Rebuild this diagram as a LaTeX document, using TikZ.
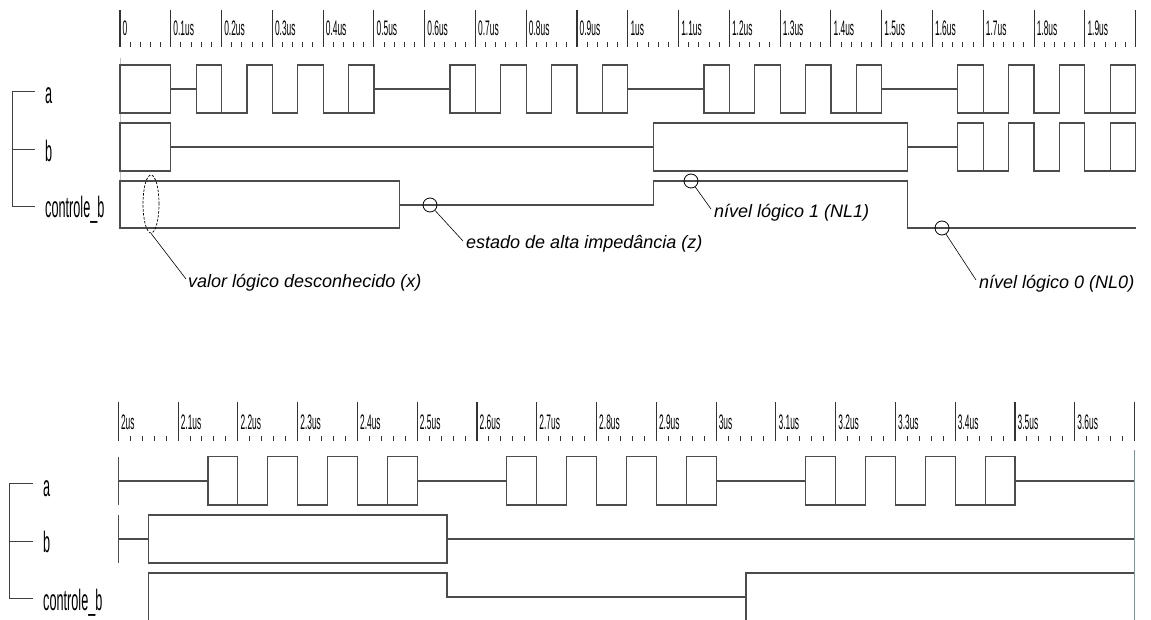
\documentclass[tikz,border=0pt]{standalone}
\usepackage{fontspec}
\setmainfont{Liberation Sans}
\usepackage{graphicx}
\usetikzlibrary{shapes.geometric}
\definecolor{cursorc}{RGB}{120,150,155}
\newcommand{\ticklab}[1]{\scalebox{0.4}[1]{\fontsize{21}{21}\selectfont #1}}
\newcommand{\siglab}[1]{\scalebox{0.43}[1]{\fontsize{29.5}{29.5}\selectfont #1}}
\newcommand{\wburst}[3]{%
  \draw[wave] (#1,#2) -- ({#1+1},#2) ({#1+2},#2) -- ({#1+3},#2) ({#1+4},#2) -- ({#1+5},#2) ({#1+6},#2) -- ({#1+7},#2)
    (#1,#3) -- ({#1+2},#3) ({#1+3},#3) -- ({#1+4},#3) ({#1+5},#3) -- ({#1+7},#3);
  \foreach \i in {0,...,7}{\draw[wave] ({#1+\i},#2) -- ({#1+\i},#3);}%
}
\begin{document}
\begin{tikzpicture}[x=1pt,y=-1pt,
  wave/.style={line width=1.2pt, draw=black!70, line cap=rect},
  major/.style={line width=1.1pt, draw=black!80},
  minor/.style={line width=1pt, draw=black!80},
  brk/.style={line width=1pt, draw=black!75},
  lead/.style={line width=0.6pt, draw=black},
  ann/.style={anchor=base west, inner sep=0pt, font=\fontsize{18}{20}\selectfont\itshape},
  sig/.style={anchor=base west, inner sep=0pt},
  ticklbl/.style={anchor=west, inner sep=0pt},
  ringmark/.style={circle, draw=black, line width=0.8pt, minimum size=14pt, inner sep=0pt}]
\useasboundingbox (0,0) rectangle (1151,620);
\fill[white] (0,0) rectangle (1151,620);

% ---------- top ruler ----------
\foreach \i in {0,...,20}{\draw[major] ({120+50.78*\i},10) -- ({120+50.78*\i},47);}
\foreach \i in {0,...,19}{\foreach \j in {1,...,4}{\draw[minor] ({120+50.78*\i+10.156*\j},42.5) -- ({120+50.78*\i+10.156*\j},47);}}
\foreach \i/\t in {0/0,1/0.1us,2/0.2us,3/0.3us,4/0.4us,5/0.5us,6/0.6us,7/0.7us,8/0.8us,9/0.9us,10/1us,11/1.1us,12/1.2us,13/1.3us,14/1.4us,15/1.5us,16/1.6us,17/1.7us,18/1.8us,19/1.9us}{
  \node[ticklbl] (tt\i) at ({122.5+50.78*\i},28.5) {\ticklab{\t}};}

% ---------- top signals ----------
\begin{scope}[xshift=120pt, x=25.39pt]
\draw[line width=1pt, draw=black!25] (0,58) -- (0,228);
% a
\draw[wave] (0,65) rectangle (2,113);
\draw[wave] (2,89) -- (3,89) (10,89) -- (13,89) (20,89) -- (23,89) (30,89) -- (33,89);
\wburst{3}{65}{113}
\wburst{13}{65}{113}
\wburst{23}{65}{113}
\wburst{33}{65}{113}
% b
\draw[wave] (0,123) rectangle (2,171);
\draw[wave] (2,147) -- (21,147);
\draw[wave] (21,123) rectangle (31,171);
\draw[wave] (31,147) -- (33,147);
\wburst{33}{123}{171}
% controle_b
\draw[wave] (0,181) rectangle (11,228);
\draw[wave] (11,205) -- (21,205) -- (21,181) -- (31,181) -- (31,228) -- (40,228);
\end{scope}

% ---------- top labels ----------
\draw[brk] (35,91.5) -- (12,91.5) -- (12,207) -- (35,207);
\draw[brk] (12,150) -- (35,150);
\node[sig] (sa1) at (45,103.5) {\siglab{a}};
\node[sig] (sb1) at (45,161.5) {\siglab{b}};
\node[sig] (sc1) at (45,218) {\siglab{controle\_b}};

% ---------- annotations ----------
\node[ellipse, draw=black, dash pattern=on 2.5pt off 1.5pt, line width=0.7pt, minimum width=16pt, minimum height=58pt, inner sep=0pt] (ex) at (151,204) {};
\node[ann] (lx) at (188,288) {valor lógico desconhecido (x)};
\coordinate (lxp) at (186,279);
\draw[lead] (ex.south) -- (lxp);

\node[ringmark] (cz) at (430,205) {};
\node[ann] (lz) at (466,249) {estado de alta impedância (z)};
\coordinate (lzp) at (463,241);
\draw[lead] (cz) -- (lzp);

\node[ringmark] (c1) at (691,181) {};
\node[ann] (l1) at (714,218) {nível lógico 1 (NL1)};
\coordinate (l1p) at (711,209);
\draw[lead] (c1) -- (l1p);

\node[ringmark] (c0) at (942,228) {};
\node[ann] (l0) at (979,289) {nível lógico 0 (NL0)};
\coordinate (l0p) at (976,280);
\draw[lead] (c0) -- (l0p);

% ---------- bottom ruler ----------
\foreach \i in {0,...,17}{\draw[major] ({118.3+59.78*\i},402) -- ({118.3+59.78*\i},441);}
\foreach \i in {0,...,16}{\foreach \j in {1,...,4}{\draw[minor] ({118.3+59.78*\i+11.956*\j},436) -- ({118.3+59.78*\i+11.956*\j},441);}}
\foreach \i/\t in {0/2us,1/2.1us,2/2.2us,3/2.3us,4/2.4us,5/2.5us,6/2.6us,7/2.7us,8/2.8us,9/2.9us,10/3us,11/3.1us,12/3.2us,13/3.3us,14/3.4us,15/3.5us,16/3.6us}{
  \node[ticklbl] (bt\i) at ({120.8+59.78*\i},422.5) {\ticklab{\t}};}

% ---------- bottom signals ----------
\begin{scope}[xshift=118.3pt, x=29.89pt]
% a
\draw[line width=1pt, draw=black!70] (0,456.7) -- (0,505);
\draw[wave] (0,481) -- (3,481) (10,481) -- (13,481) (20,481) -- (23,481) (30,481) -- (34,481);
\wburst{3}{456.7}{505}
\wburst{13}{456.7}{505}
\wburst{23}{456.7}{505}
% b
\draw[line width=1pt, draw=black!70] (0,515) -- (0,563);
\draw[wave] (0,539) -- (1,539);
\draw[wave] (1,515) rectangle (11,563);
\draw[wave] (11,539) -- (34,539);
% controle_b
\draw[wave] (1,620) -- (1,573) -- (11,573) -- (11,597) -- (21,597);
\draw[wave] (21,620) -- (21,573) -- (34,573);
\end{scope}
\draw[line width=1pt, draw=cursorc] (1134.3,450) -- (1134.3,620);

% ---------- bottom labels ----------
\draw[brk] (33,483) -- (9.5,483) -- (9.5,598) -- (33,598);
\draw[brk] (9.5,541) -- (33,541);
\node[sig] (sa2) at (43,496) {\siglab{a}};
\node[sig] (sb2) at (43,552) {\siglab{b}};
\node[sig] (sc2) at (43,610) {\siglab{controle\_b}};
\end{tikzpicture}
\end{document}
